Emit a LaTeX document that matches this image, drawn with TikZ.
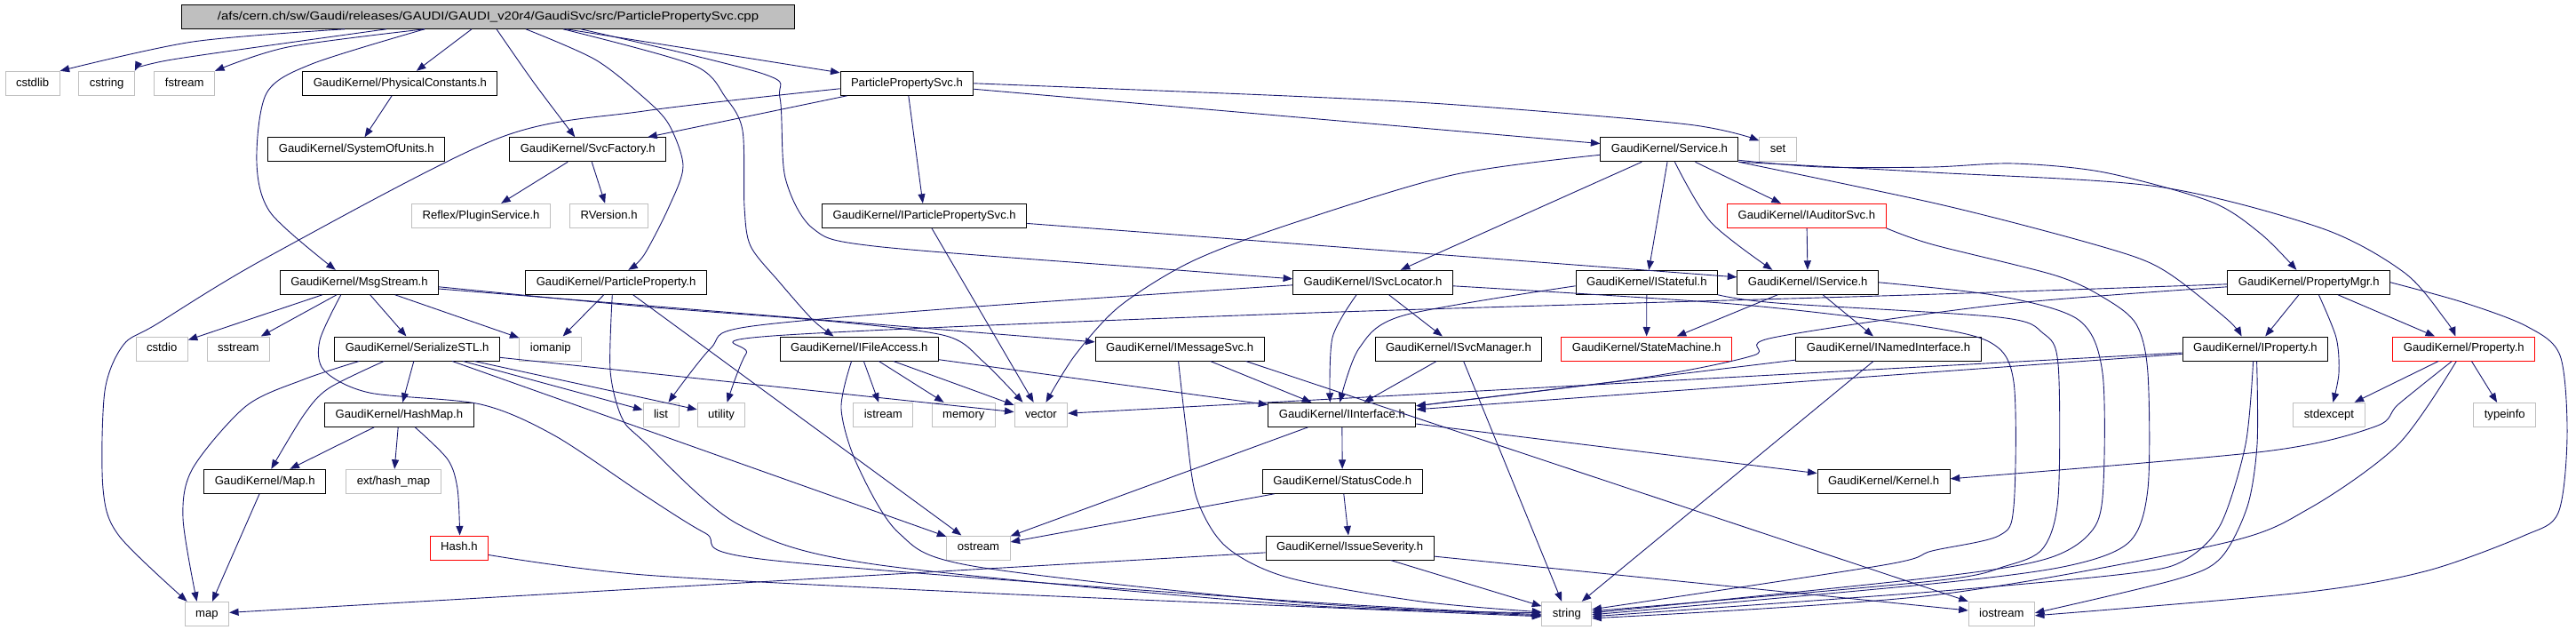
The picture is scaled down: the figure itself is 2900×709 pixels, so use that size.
\documentclass[tikz,border=0pt]{standalone}
\usepackage{graphicx}
\usepackage{fontspec}
\setmainfont{Liberation Sans}
\usetikzlibrary{arrows.meta}
\definecolor{edgeblue}{HTML}{191970}
\definecolor{boxgray}{HTML}{BFBFBF}
\newcommand{\hdrfont}{\fontsize{13.1}{15}\selectfont}

\begin{document}
\begin{tikzpicture}[x=1pt, y=-1pt,
	every node/.style={font=\hdrfont, anchor=west, minimum height=27pt, inner xsep=12pt, inner ysep=0pt,
		text height=9.6pt, text depth=2.8pt, line width=1pt},
	hdr/.style={draw=black},
	syshdr/.style={draw=boxgray},
	misshdr/.style={draw=red},
	srcfile/.style={draw=black, fill=boxgray},
	inc/.style={draw=edgeblue, line width=0.9pt, -{Triangle[length=10.5pt,width=8pt]}}]
	\useasboundingbox (0,0) rectangle (2900,709);

	% the source file
	\node[srcfile, minimum width=690] (root) at (204,18.8) {\scalebox{1.14}[1]{/afs/cern.ch/sw/Gaudi/releases/GAUDI/GAUDI\_v20r4/GaudiSvc/src/ParticlePropertySvc.cpp}};

	% headers, row by row
	\node[syshdr] (cstdlib) at (5.5,93.8) {cstdlib};
	\node[syshdr] (cstring) at (88.3,93.8) {cstring};
	\node[syshdr] (fstream) at (173.4,93.8) {fstream};
	\node[hdr] (physconst) at (340.3,93.8) {GaudiKernel/PhysicalConstants.h};
	\node[hdr] (ppsvch) at (945.5,93.8) {ParticlePropertySvc.h};

	\node[hdr] (sysunits) at (301.4,168.3) {GaudiKernel/SystemOfUnits.h};
	\node[hdr] (svcfactory) at (573.3,168.3) {GaudiKernel/SvcFactory.h};
	\node[hdr] (service) at (1801.4,168.3) {GaudiKernel/Service.h};
	\node[syshdr] (stdset) at (1980.3,168.3) {set};

	\node[syshdr] (plugin) at (463.2,242.8) {Reflex/PluginService.h};
	\node[syshdr] (rversion) at (641.2,242.8) {RVersion.h};
	\node[hdr] (ipartsvc) at (925.2,242.8) {GaudiKernel/IParticlePropertySvc.h};
	\node[misshdr] (iauditor) at (1944.2,242.8) {GaudiKernel/IAuditorSvc.h};

	\node[hdr] (msgstream) at (314.8,317.8) {GaudiKernel/MsgStream.h};
	\node[hdr] (partprop) at (591.3,317.8) {GaudiKernel/ParticleProperty.h};
	\node[hdr] (isvcloc) at (1455.1,317.8) {GaudiKernel/ISvcLocator.h};
	\node[hdr] (istateful) at (1773.6,317.8) {GaudiKernel/IStateful.h};
	\node[hdr] (iservice) at (1955.3,317.8) {GaudiKernel/IService.h};
	\node[hdr] (propmgr) at (2507.4,317.8) {GaudiKernel/PropertyMgr.h};

	\node[syshdr] (cstdio) at (152.6,392.5) {cstdio};
	\node[syshdr] (sstream) at (232.5,392.5) {sstream};
	\node[hdr] (serialize) at (376.3,392.5) {GaudiKernel/SerializeSTL.h};
	\node[syshdr] (iomanip) at (584.4,392.5) {iomanip};
	\node[hdr] (ifileacc) at (877.6,392.5) {GaudiKernel/IFileAccess.h};
	\node[hdr] (imsgsvc) at (1232.6,392.5) {GaudiKernel/IMessageSvc.h};
	\node[hdr] (isvcmgr) at (1547.5,392.5) {GaudiKernel/ISvcManager.h};
	\node[misshdr] (statemach) at (1757.4,392.5) {GaudiKernel/StateMachine.h};
	\node[hdr] (inamed) at (2021.4,392.5) {GaudiKernel/INamedInterface.h};
	\node[hdr] (iprop) at (2456.6,392.5) {GaudiKernel/IProperty.h};
	\node[misshdr] (prop) at (2693.3,392.5) {GaudiKernel/Property.h};

	\node[hdr] (hashmap) at (365.2,466.8) {GaudiKernel/HashMap.h};
	\node[syshdr] (stdlist) at (723.5,466.8) {list};
	\node[syshdr] (utility) at (784.6,466.8) {utility};
	\node[syshdr] (istream) at (960.3,466.8) {istream};
	\node[syshdr] (memory) at (1048.6,466.8) {memory};
	\node[syshdr] (vector) at (1141.5,466.8) {vector};
	\node[hdr] (iiface) at (1427.3,466.8) {GaudiKernel/IInterface.h};
	\node[syshdr] (stdexcept) at (2581.4,466.8) {stdexcept};
	\node[syshdr] (typeinfo) at (2784.3,466.8) {typeinfo};

	\node[hdr] (mapgk) at (229.3,541.8) {GaudiKernel/Map.h};
	\node[syshdr] (hashmapext) at (389.3,541.8) {ext/hash\_map};
	\node[hdr] (statuscode) at (1420.8,541.8) {GaudiKernel/StatusCode.h};
	\node[hdr] (kernel) at (2045.5,541.8) {GaudiKernel/Kernel.h};

	\node[misshdr] (hashh) at (483.6,616.5) {Hash.h};
	\node[syshdr] (ostream) at (1065.3,616.5) {ostream};
	\node[hdr] (issuesev) at (1424.5,616.5) {GaudiKernel/IssueSeverity.h};

	\node[syshdr] (stdmap) at (207.6,690.8) {map};
	\node[syshdr] (stdstring) at (1735.3,690.8) {string};
	\node[syshdr] (iostream) at (2215.7,690.8) {iostream};

	% straight includes
	\foreach \a/\b in {root/physconst, root/ppsvch, physconst/sysunits, ppsvch/svcfactory, ppsvch/ipartsvc,
		ppsvch/service, svcfactory/plugin, svcfactory/rversion, ipartsvc/iservice, ipartsvc/vector,
		service/isvcloc, service/istateful, service/iauditor, iauditor/iservice, isvcloc/isvcmgr,
		istateful/statemach, iservice/statemach, iservice/inamed, isvcmgr/iiface, isvcmgr/stdstring,
		inamed/iiface, inamed/stdstring, iprop/iiface, iprop/vector, propmgr/iprop, propmgr/prop,
		prop/stdexcept, prop/typeinfo, iiface/statuscode, iiface/kernel, iiface/ostream,
		statuscode/issuesev, statuscode/ostream, issuesev/stdmap, issuesev/stdstring, issuesev/iostream,
		imsgsvc/iiface, ifileacc/iiface, ifileacc/istream, ifileacc/memory, ifileacc/vector,
		msgstream/cstdio, msgstream/sstream, msgstream/serialize, msgstream/iomanip, msgstream/imsgsvc,
		partprop/iomanip, partprop/ostream, serialize/hashmap, serialize/ostream, serialize/stdlist,
		serialize/utility, serialize/vector, hashmap/mapgk, hashmap/hashmapext, mapgk/stdmap}
		\draw[inc] (\a) -- (\b);
	\draw[inc] ([xshift=170]imsgsvc.south west) -- (iostream.north west);

	% bent includes from the source file
	\draw[inc] plot[smooth] coordinates {([xshift=184]root.south west) (217,47) (cstdlib.north east)};
	\draw[inc] plot[smooth] coordinates {([xshift=231]root.south west) (194,67) (cstring.north east)};
	\draw[inc] plot[smooth] coordinates {([xshift=274]root.south west) (324,53) (fstream.north east)};
	\draw[inc] plot[smooth] coordinates {([xshift=274]root.south west) (351,72) (300,105) (289,183) (305,240) ([xshift=63]msgstream.north west)};
	\draw[inc] plot[smooth] coordinates {([xshift=355]root.south west) (601,93) ([xshift=74]svcfactory.north west)};
	\draw[inc] plot[smooth] coordinates {([xshift=388]root.south west) (670,67) (725,110) (753,140) (769,187) (753,233) (725,287) ([xshift=116]partprop.north west)};
	\draw[inc] plot[smooth] coordinates {([xshift=430]root.south west) (780,73) (817,110) (836,147) (838,233) (845,277) (877,317) (915,360) ([xshift=61]ifileacc.north west)};
	\draw[inc] plot[smooth] coordinates {([xshift=450]root.south west) (859,83) (878,110) (884,200) (915,257) (984,277) (1300,302) ([yshift=4]isvcloc.west)};

	% ParticlePropertySvc.h and Service.h
	\draw[inc] plot[smooth] coordinates {([yshift=-6]ppsvch.west) (725,125) (560,156) (300,290) (176,365) (139,388) (118,440) (116,550) (134,603) ([xshift=3]stdmap.north west)};
	\draw[inc] plot[smooth] coordinates {(ppsvch.east) (1450,108) (1640,118) (1900,140) ([yshift=-4]stdset.north west)};
	\draw[inc] plot[smooth] coordinates {([yshift=-6]service.west) (1635,197) (1450,253) (1340,295) (1260,345) (1210,400) ([xshift=36]vector.north west)};
	\draw[inc] plot[smooth] coordinates {([xshift=84]service.south west) (1926,250) ([xshift=40]iservice.north west)};
	\draw[inc] plot[smooth] coordinates {([yshift=2]service.south east) (2051,188) (2175,188) (2267,184) (2369,194) (2489,227) (2545,263) ([xshift=78]propmgr.north west)};
	\draw[inc] plot[smooth] coordinates {(service.south east) (2175,194) (2429,210) (2614,257) (2707,307) (2753,360) ([xshift=71]prop.north west)};
	\draw[inc] plot[smooth] coordinates {(service.south east) (2175,228) (2314,263) (2406,290) (2448,312) (2508,360) ([xshift=67]iprop.north west)};

	% long ways round to string
	\draw[inc] plot[smooth] coordinates {(iauditor.south east) (2175,275) (2314,310) (2370,336) (2405,365) (2418,420) (2418,550) (2397,610) (2327,637) (2175,657) ([yshift=-1]stdstring.east)};
	\draw[inc] plot[smooth] coordinates {([yshift=-4]isvcloc.east) (1950,342) (2150,365) (2240,385) (2267,430) (2267,570) (2250,603) (2175,620) (2120,636) ([yshift=5]stdstring.east)};
	\draw[inc] plot[smooth] coordinates {(istateful.south east) (2000,341) (2250,357) (2300,375) (2317,410) (2317,560) (2300,617) (2258,637) (2175,654) ([yshift=3]stdstring.east)};
	\draw[inc] plot[smooth] coordinates {(iservice.east) (2250,333) (2340,360) (2367,420) (2367,560) (2350,603) (2300,630) (2175,650) ([yshift=1]stdstring.east)};
	\draw[inc] plot[smooth] coordinates {([xshift=80]iprop.south west) (2528,500) (2500,590) (2460,630) (2400,645) (2175,666) ([yshift=-3]stdstring.east)};
	\draw[inc] plot[smooth] coordinates {([xshift=72]prop.south west) (2700,500) (2600,572) (2500,612) (2175,670) ([yshift=-5]stdstring.east)};
	\draw[inc] plot[smooth] coordinates {([xshift=81]ifileacc.south west) (947,460) (965,523) (1012,600) (1095,637) (1450,677) ([yshift=-2]stdstring.west)};
	\draw[inc] plot[smooth] coordinates {([xshift=94]imsgsvc.south west) (1335,480) (1347,560) (1380,615) (1450,650) (1600,677) ([yshift=2]stdstring.west)};
	\draw[inc] plot[smooth] coordinates {([xshift=69]msgstream.south west) (360,383) (365,417) (416,442) (541,455) (624,490) (725,557) (794,600) (864,630) (1450,676) ([yshift=-1]stdstring.west)};
	\draw[inc] plot[smooth] coordinates {([xshift=98]partprop.south west) (687,417) (700,470) (725,497) (831,590) (984,635) (1450,680) ([yshift=1]stdstring.west)};
	\draw[inc] plot[smooth] coordinates {([yshift=-8]hashh.east) (725,647) (1100,667) (1500,684) ([yshift=-3]stdstring.west)};

	% other bent includes
	\draw[inc] plot[smooth] coordinates {([yshift=-5]msgstream.east) (725,345) (940,362) (1065,378) (1107,407) ([xshift=10]vector.north west)};
	\draw[inc] plot[smooth] coordinates {([xshift=28]serialize.south west) (342,427) (277,457) (217,527) (206,583) ([xshift=14]stdmap.north west)};
	\draw[inc] plot[smooth] coordinates {([xshift=56]serialize.south west) (370,437) (342,467) ([xshift=76]mapgk.north west)};
	\draw[inc] plot[smooth] coordinates {([xshift=102]hashmap.south west) (504,517) (515,550) ([xshift=34]hashh.north west)};
	\draw[inc] plot[smooth] coordinates {([xshift=72]isvcloc.south west) (1500,380) ([xshift=70]iiface.north west)};
	\draw[inc] plot[smooth] coordinates {([yshift=-3]isvcloc.west) (1100,345) (840,368) (800,392) ([xshift=29]stdlist.north west)};
	\draw[inc] plot[smooth] coordinates {([yshift=-4]istateful.west) (1580,355) (1530,392) ([xshift=81]iiface.north west)};
	\draw[inc] plot[smooth] coordinates {([xshift=103]propmgr.south west) (2630,380) (2633,420) ([xshift=45]stdexcept.north west)};
	\draw[inc] plot[smooth] coordinates {(propmgr.east) (2772,340) (2844,367) (2882,400) (2890,490) (2880,577) (2841,603) (2730,643) (2591,667) ([yshift=-2]iostream.east)};
	\draw[inc] plot[smooth] coordinates {([yshift=-5]propmgr.west) (2250,343) (1996,380) (1974,400) (1850,425) ([yshift=-4]iiface.north east)};
	\draw[inc] plot[smooth] coordinates {([yshift=-2]propmgr.west) (2150,332) (1450,353) (870,378) (840,398) ([xshift=34]utility.north west)};
	\draw[inc] plot[smooth] coordinates {([xshift=84]iprop.south west) (2541,500) (2530,570) (2500,628) (2450,652) ([yshift=1]iostream.east)};
	\draw[inc] plot[smooth] coordinates {([xshift=67]prop.south west) (2700,455) (2674,480) (2550,508) ([yshift=3]kernel.east)};
\end{tikzpicture}
\end{document}
